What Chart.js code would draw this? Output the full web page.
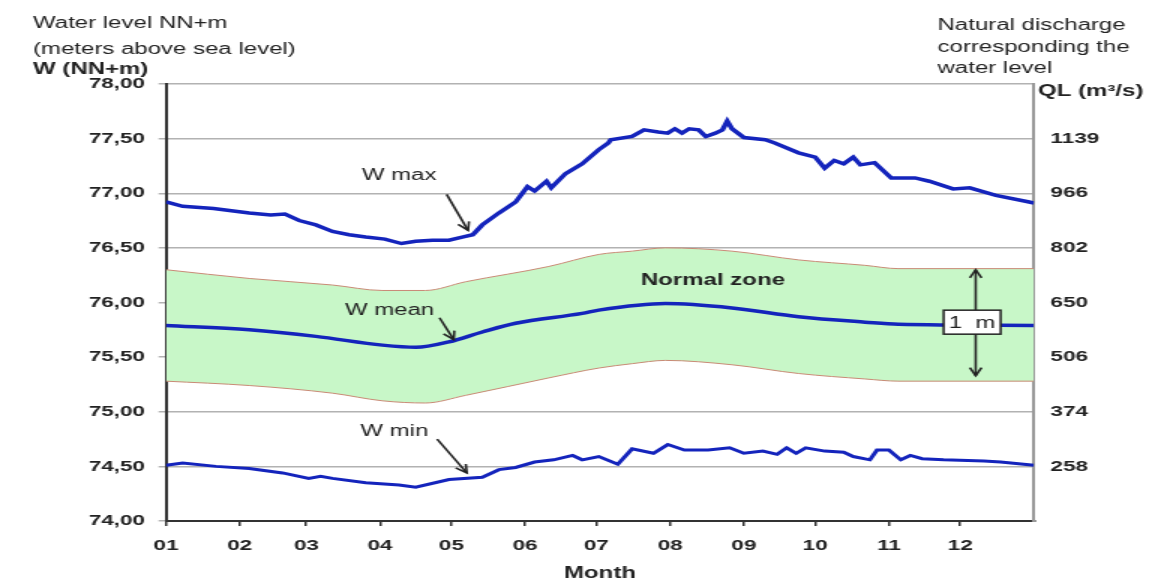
<!DOCTYPE html>
<html lang="en">
<head>
    <meta charset="UTF-8">
    <title>Water level NN+m</title>
    <script src="https://cdn.jsdelivr.net/npm/chart.js"></script>
    <style>
        html, body { margin: 0; padding: 0; background: #fff; overflow: hidden; }
        /* the original picture is a horizontally stretched screenshot */
        #chart { display: block; transform: scaleX(1.5); transform-origin: 0 0; }
    </style>
</head>
<body>
    <canvas id="chart" width="784" height="585"></canvas>
    <script>
        // month axis (day of year)
        const monthStarts = [0, 31, 59, 90, 120, 151, 181, 212, 243, 273, 304, 334];
        const monthLabels = ['01', '02', '03', '04', '05', '06', '07', '08', '09', '10', '11', '12'];

        // left and right axis ticks
        const levelTicks = [74, 74.5, 75, 75.5, 76, 76.5, 77, 77.5, 78];
        const levelLabels = ['74,00', '74,50', '75,00', '75,50', '76,00', '76,50', '77,00', '77,50', '78,00'];
        const dischargeLabels = ['', '258', '374', '506', '650', '802', '966', '1139', ''];

        // W max
        const maxDays = [0, 7, 20, 35, 44, 50, 56, 63, 70, 77, 84, 92, 99, 105, 112, 119, 125, 129, 133, 140, 147, 152, 155, 160, 162, 168, 175, 182, 186, 187, 196, 201, 207, 211, 214, 217, 220, 224, 227, 231, 234, 236, 238, 243, 252, 256, 266, 273, 277, 281, 285, 289, 292, 298, 305, 315, 321, 331, 338, 349, 363, 365];
        const maxLevel = [76.92, 76.88, 76.86, 76.82, 76.80, 76.81, 76.75, 76.71, 76.65, 76.62, 76.60, 76.58, 76.54, 76.56, 76.57, 76.57, 76.60, 76.62, 76.71, 76.82, 76.92, 77.06, 77.02, 77.11, 77.05, 77.18, 77.27, 77.40, 77.46, 77.49, 77.52, 77.58, 77.56, 77.55, 77.59, 77.55, 77.59, 77.58, 77.52, 77.55, 77.58, 77.66, 77.59, 77.51, 77.49, 77.46, 77.37, 77.33, 77.23, 77.30, 77.27, 77.33, 77.26, 77.28, 77.14, 77.14, 77.11, 77.04, 77.05, 76.98, 76.92, 76.91];

        // normal zone
        const bandDays = [0, 35, 70, 91, 109, 126, 161, 182, 196, 210, 238, 266, 294, 308, 365];
        const bandUpper = [76.30, 76.22, 76.16, 76.11, 76.11, 76.19, 76.33, 76.44, 76.47, 76.50, 76.47, 76.39, 76.34, 76.31, 76.31];
        const bandLower = [75.28, 75.24, 75.17, 75.10, 75.08, 75.15, 75.31, 75.40, 75.44, 75.47, 75.43, 75.35, 75.30, 75.28, 75.28];

        // W mean
        const meanDays = [0, 35, 63, 91, 105, 119, 133, 147, 175, 182, 210, 238, 266, 294, 308, 365];
        const meanLevel = [75.79, 75.75, 75.69, 75.61, 75.59, 75.64, 75.73, 75.81, 75.90, 75.93, 75.99, 75.95, 75.87, 75.82, 75.80, 75.79];

        // W min
        const minDays = [0, 7, 21, 35, 49, 60, 65, 70, 84, 98, 105, 119, 133, 140, 147, 155, 163, 171, 175, 182, 190, 196, 205, 211, 218, 228, 237, 243, 251, 257, 261, 265, 269, 277, 285, 289, 296, 299, 304, 309, 313, 318, 327, 344, 351, 365];
        const minLevel = [74.51, 74.53, 74.50, 74.48, 74.44, 74.39, 74.41, 74.39, 74.35, 74.33, 74.31, 74.38, 74.40, 74.47, 74.49, 74.54, 74.56, 74.60, 74.56, 74.59, 74.52, 74.66, 74.62, 74.70, 74.65, 74.65, 74.67, 74.62, 74.64, 74.61, 74.67, 74.62, 74.67, 74.64, 74.63, 74.59, 74.56, 74.65, 74.65, 74.56, 74.60, 74.57, 74.56, 74.55, 74.54, 74.51];

        const FONT = "'Liberation Sans', Arial, sans-serif";
        const BLUE = '#1424bc';
        const INK = '#222';

        function pts(days, vals) {
            return days.map((d, i) => ({ x: d, y: vals[i] }));
        }

        function arrow(ctx, x1, y1, x2, y2, both) {
            const head = (ax, ay, bx, by) => {
                const a = Math.atan2(by - ay, bx - ax);
                const L = 9, s = 0.45;
                ctx.beginPath();
                ctx.moveTo(bx - L * Math.cos(a - s), by - L * Math.sin(a - s));
                ctx.lineTo(bx, by);
                ctx.lineTo(bx - L * Math.cos(a + s), by - L * Math.sin(a + s));
                ctx.stroke();
            };
            ctx.beginPath();
            ctx.moveTo(x1, y1);
            ctx.lineTo(x2, y2);
            ctx.stroke();
            head(x1, y1, x2, y2);
            if (both) head(x2, y2, x1, y1);
        }

        // labels, arrows and the header texts
        const notes = {
            id: 'notes',
            afterDatasetsDraw(chart) {
                const { ctx, scales: { x, y } } = chart;
                const px = d => x.getPixelForValue(d);
                const py = v => y.getPixelForValue(v);
                ctx.save();
                ctx.fillStyle = INK;
                ctx.strokeStyle = INK;
                ctx.lineWidth = 1.6;
                ctx.textAlign = 'center';
                ctx.textBaseline = 'middle';
                ctx.font = '16px ' + FONT;
                ctx.fillText('W max', px(98), py(77.16));
                ctx.fillText('W mean', px(94), py(75.93));
                ctx.fillText('W min', px(96), py(74.82));
                ctx.font = 'bold 16px ' + FONT;
                ctx.fillText('Normal zone', px(230), py(76.20));

                arrow(ctx, px(118), py(76.99), px(127), py(76.66));
                arrow(ctx, px(115), py(75.86), px(121), py(75.66));
                arrow(ctx, px(114), py(74.75), px(126.5), py(74.44));

                // 1 m marker
                arrow(ctx, px(340.5), py(76.30), px(340.5), py(75.33), true);
                const bx = px(339), by = py(75.82);
                ctx.fillStyle = '#fff';
                ctx.fillRect(bx - 19, by - 12, 38, 24);
                ctx.lineWidth = 1.5;
                ctx.strokeRect(bx - 19, by - 12, 38, 24);
                ctx.fillStyle = INK;
                ctx.font = '16px ' + FONT;
                ctx.fillText('1  m', bx, by + 1);
                ctx.restore();
            },
            afterDraw(chart) {
                const ctx = chart.ctx;
                ctx.save();
                ctx.fillStyle = INK;
                ctx.textAlign = 'left';
                ctx.textBaseline = 'middle';
                ctx.font = '16px ' + FONT;
                ctx.fillText('Water level NN+m', 22, 24);
                ctx.fillText('(meters above sea level)', 22, 50);
                ctx.fillText('Natural discharge', 625, 26);
                ctx.fillText('corresponding the', 625, 48);
                ctx.fillText('water level', 625, 69);
                ctx.font = 'bold 16px ' + FONT;
                ctx.fillText('W (NN+m)', 22, 70);
                ctx.fillText('QL (m³/s)', 692, 92);
                ctx.restore();
            }
        };

        const tickFont = { family: FONT, size: 15, weight: 'bold' };

        new Chart(document.getElementById('chart'), {
            type: 'line',
            data: {
                datasets: [
                    { label: 'W max', data: pts(maxDays, maxLevel), borderColor: BLUE, borderWidth: 3.5, pointRadius: 0, tension: 0 },
                    { label: 'W mean', data: pts(meanDays, meanLevel), borderColor: BLUE, borderWidth: 3.5, pointRadius: 0, cubicInterpolationMode: 'monotone' },
                    { label: 'upper', data: pts(bandDays, bandUpper), borderColor: '#c98a76', borderWidth: 1, pointRadius: 0,
                      cubicInterpolationMode: 'monotone', fill: '+1', backgroundColor: '#c8f7c8' },
                    { label: 'lower', data: pts(bandDays, bandLower), borderColor: '#c98a76', borderWidth: 1, pointRadius: 0,
                      cubicInterpolationMode: 'monotone' },
                    { label: 'W min', data: pts(minDays, minLevel), borderColor: BLUE, borderWidth: 3, pointRadius: 0, tension: 0 }
                ]
            },
            options: {
                responsive: false,
                animation: false,
                devicePixelRatio: 1,
                events: [],
                layout: { padding: { top: 84, left: 0, right: 0, bottom: 0 } },
                plugins: {
                    legend: { display: false },
                    tooltip: { enabled: false },
                    filler: { drawTime: 'beforeDatasetsDraw' }
                },
                scales: {
                    x: {
                        type: 'linear', min: 0, max: 365,
                        afterBuildTicks: s => { s.ticks = monthStarts.map(v => ({ value: v })); },
                        afterFit: s => { s.height = 64; },
                        ticks: { autoSkip: false, maxRotation: 0, padding: 11, color: INK, font: tickFont,
                                 callback: (v, i) => monthLabels[i] },
                        grid: { drawOnChartArea: false, tickLength: 5, color: '#333', lineWidth: 1.5 },
                        border: { color: '#333', width: 2 },
                        title: { display: true, text: 'Month', color: INK, font: { family: FONT, size: 16, weight: 'bold' },
                                 padding: { top: 0, bottom: 2 } }
                    },
                    y: {
                        position: 'left', min: 74, max: 78,
                        afterBuildTicks: s => { s.ticks = levelTicks.map(v => ({ value: v })); },
                        afterFit: s => { s.width = 110.7; },
                        ticks: { padding: 9, color: INK, font: tickFont, callback: (v, i) => levelLabels[i] },
                        grid: { color: '#b2b2b2', lineWidth: 1.5, tickLength: 5 },
                        border: { color: '#333', width: 2 }
                    },
                    y2: {
                        position: 'right', min: 74, max: 78,
                        afterBuildTicks: s => { s.ticks = levelTicks.map(v => ({ value: v })); },
                        afterFit: s => { s.width = 94.7; },
                        ticks: { padding: 11, color: INK, font: tickFont, callback: (v, i) => dischargeLabels[i] },
                        grid: { drawOnChartArea: false, drawTicks: false },
                        border: { color: '#999', width: 2 }
                    }
                }
            },
            plugins: [notes]
        });
    </script>
</body>
</html>
